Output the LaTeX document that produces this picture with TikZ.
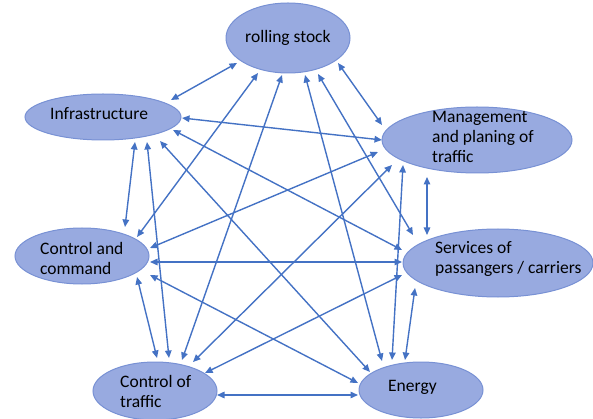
\documentclass[tikz,border=0pt]{standalone}
\usepackage{fontspec}
\setmainfont{Carlito}
\usetikzlibrary{arrows.meta,shapes.geometric}
\definecolor{efill}{RGB}{152,170,224}
\definecolor{eline}{RGB}{120,145,212}
\definecolor{arr}{RGB}{68,114,196}
\begin{document}
\begin{tikzpicture}[x=1pt,y=-1pt,
  blob/.style={ellipse, draw=eline, line width=1pt, fill=efill, inner sep=0pt},
  lbl/.style={anchor=west, align=left, inner sep=0pt, font=\fontsize{17.5}{20}\selectfont, text=black},
  link/.style={draw=arr, line width=1.4pt, {Triangle[length=7.5pt,width=6.5pt]}-{Triangle[length=7.5pt,width=6.5pt]}}]
\useasboundingbox (0,0) rectangle (593,419);
% ellipses
\node[blob, minimum width=124pt, minimum height=70pt] (R) at (288,38) {};
\node[blob, minimum width=156pt, minimum height=46pt] (I) at (103,117) {};
\node[blob, minimum width=190pt, minimum height=66pt] (M) at (477,140) {};
\node[blob, minimum width=134pt, minimum height=56pt] (C) at (82,256) {};
\node[blob, minimum width=190pt, minimum height=68pt] (S) at (498,263) {};
\node[blob, minimum width=124pt, minimum height=58pt] (T) at (155,391) {};
\node[blob, minimum width=124pt, minimum height=56pt] (E) at (421,390) {};
% connectors
\draw[link] ([shift={(-51,25)}]R.center) -- ([shift={(68,-17)}]I.center);
\draw[link] ([shift={(50,25)}]R.center) -- ([shift={(-95,-15)}]M.center);
\draw[link] ([shift={(-30,35)}]R.center) -- ([shift={(55,-19)}]C.center);
\draw[link] ([shift={(-6,37)}]R.center) -- ([shift={(27,-31)}]T.center);
\draw[link] ([shift={(17,37)}]R.center) -- ([shift={(-39,-29)}]E.center);
\draw[link] ([shift={(30,36)}]R.center) -- ([shift={(-85,-28)}]S.center);
\draw[link] ([shift={(79,1)}]I.center) -- ([shift={(-95,0)}]M.center);
\draw[link] ([shift={(32,25)}]I.center) -- ([shift={(43,-29)}]C.center);
\draw[link] ([shift={(44,25)}]I.center) -- ([shift={(14,-33)}]T.center);
\draw[link] ([shift={(70,13)}]I.center) -- ([shift={(-96,-13)}]S.center);
\draw[link] ([shift={(57,24)}]I.center) -- ([shift={(-51,-18)}]E.center);
\draw[link] ([shift={(-99,12)}]M.center) -- ([shift={(68,-8)}]C.center);
\draw[link] ([shift={(-85,25)}]M.center) -- ([shift={(38,-29)}]T.center);
\draw[link] ([shift={(-74,25)}]M.center) -- ([shift={(-29,-30)}]E.center);
\draw[link] ([shift={(-50,37)}]M.center) -- ([shift={(-71,-28)}]S.center);
\draw[link] ([shift={(68,6)}]C.center) -- ([shift={(-96,-1)}]S.center);
\draw[link] ([shift={(68,19)}]C.center) -- ([shift={(-63,-7)}]E.center);
\draw[link] ([shift={(55,21)}]C.center) -- ([shift={(2,-33)}]T.center);
\draw[link] ([shift={(-96,12)}]S.center) -- ([shift={(50,-18)}]T.center);
\draw[link] ([shift={(-83,25)}]S.center) -- ([shift={(-16,-30)}]E.center);
\draw[link] ([shift={(62,4)}]T.center) -- ([shift={(-63,5)}]E.center);
% labels
\node[lbl] (Rl) at (245,39) {\strut rolling stock};
\node[lbl] (Il) at (50,116) {\strut Infrastructure};
\node[lbl] (Ml) at (432,139) {\strut Management\\\strut and planing of\\\strut traffic};
\node[lbl] (Cl) at (40,260) {\strut Control and\\\strut command};
\node[lbl] (Sl) at (435,259) {\strut Services of\\\strut passangers / carriers};
\node[lbl] (Tl) at (120,393.5) {\strut Control of\\\strut traffic};
\node[lbl] (El) at (388,387) {\strut Energy};
\end{tikzpicture}
\end{document}
